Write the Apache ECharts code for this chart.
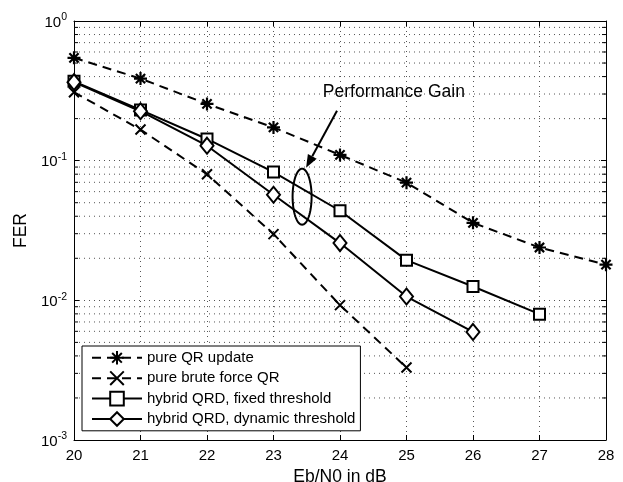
<!DOCTYPE html>
<html>
<head>
<meta charset="utf-8">
<script src="https://cdn.jsdelivr.net/npm/echarts@6/dist/echarts.min.js"></script>
<style>
html,body{margin:0;padding:0;background:#fff;}
#c{width:623px;height:482px;}
</style>
</head>
<body>
<div id="c"></div>
<script>
// ---- data ----
const ebn0 = [20, 21, 22, 23, 24, 25, 26, 27, 28];
const pureQRUpdate = [0.545, 0.387, 0.255, 0.173, 0.110, 0.0696, 0.0359, 0.0239, 0.0180];
const pureBruteForce = [0.309, 0.167, 0.080, 0.0298, 0.00924, 0.0033];
const hybridFixed = [0.370, 0.231, 0.143, 0.0828, 0.0438, 0.0194, 0.01256, 0.00796];
const hybridDynamic = [0.365, 0.226, 0.128, 0.057, 0.0257, 0.01065, 0.00594];
const seriesNames = ['pure QR update', 'pure brute force QR', 'hybrid QRD, fixed threshold', 'hybrid QRD, dynamic threshold'];
const annotationText = 'Performance Gain';

const FONT = "'Liberation Sans', Arial, Helvetica, sans-serif";
const pairs = (vals) => vals.map((v, i) => [ebn0[i], v]);

const asterisk = 'path://M0,-1L0,1M-1,0L1,0M-0.71,-0.71L0.71,0.71M-0.71,0.71L0.71,-0.71';
const cross = 'path://M-1,-1L1,1M-1,1L1,-1';

// minor gridline values (2..9 x decade)
const minorVals = [];
[-3, -2, -1].forEach(d => { for (let k = 2; k <= 9; k++) minorVals.push([20, k * Math.pow(10, d)]); });

const chart = echarts.init(document.getElementById('c'), null, {renderer: 'canvas'});

const gridDot = {color: '#555', width: 1, type: [1, 4]};

const option = {
  animation: false,
  backgroundColor: '#fff',
  grid: {left: 74, right: 17, top: 21, bottom: 42, show: false, containLabel: false, outerBoundsMode: 'none'},
  xAxis: [{
    type: 'value', min: 20, max: 28, interval: 1,
    name: 'Eb/N0 in dB', nameLocation: 'middle', nameGap: 21,
    nameTextStyle: {fontFamily: FONT, fontSize: 17.5, color: '#000'},
    axisLine: {lineStyle: {color: '#000', width: 1}},
    axisTick: {inside: true, length: 5, lineStyle: {color: '#000'}},
    axisLabel: {fontFamily: FONT, fontSize: 15, color: '#000', margin: 8},
    splitLine: {show: true, lineStyle: gridDot}
  }, {
    type: 'value', min: 20, max: 28, interval: 1, position: 'top',
    axisLine: {show: true, lineStyle: {color: '#000', width: 1}},
    axisTick: {show: true, inside: true, length: 5, lineStyle: {color: '#000'}},
    axisLabel: {show: false}, splitLine: {show: false}
  }],
  yAxis: [{
    type: 'log', logBase: 10, min: 0.001, max: 1,
    name: 'FER', nameLocation: 'middle', nameGap: 42, nameRotate: 90,
    nameTextStyle: {fontFamily: FONT, fontSize: 17.5, color: '#000'},
    axisLine: {show: true, lineStyle: {color: '#000', width: 1}},
    axisTick: {show: true, inside: true, length: 5, lineStyle: {color: '#000'}},
    axisLabel: {
      margin: 7,
      formatter: (v) => '{b|10}{s|' + Math.round(Math.log10(v)) + '}',
      rich: {
        b: {fontFamily: FONT, fontSize: 15, color: '#000', verticalAlign: 'bottom', lineHeight: 18},
        s: {fontFamily: FONT, fontSize: 10.5, color: '#000', verticalAlign: 'top', lineHeight: 18, padding: [0, 0, 8, 0]}
      }
    },
    splitLine: {show: true, lineStyle: gridDot}
  }, {
    type: 'log', logBase: 10, min: 0.001, max: 1, position: 'right',
    axisLine: {show: true, lineStyle: {color: '#000', width: 1}},
    axisTick: {show: true, inside: true, length: 5, lineStyle: {color: '#000'}},
    axisLabel: {show: false}, splitLine: {show: false}
  }],
  legend: {
    data: seriesNames,
    orient: 'vertical', left: 82, top: 346,
    backgroundColor: '#fff', borderColor: '#000', borderWidth: 1,
    padding: [4, 5, 4, 9],
    itemWidth: 50, itemHeight: 17, itemGap: 4.8,
    textStyle: {fontFamily: FONT, fontSize: 15, color: '#000'},
    selectedMode: false
  },
  series: [
    {
      type: 'custom', name: 'minorgrid', silent: true, z: 1,
      coordinateSystem: 'cartesian2d', xAxisIndex: 0, yAxisIndex: 0,
      data: minorVals,
      renderItem: function (params, api) {
        const p0 = api.coord([20, api.value(1)]);
        const p1 = api.coord([28, api.value(1)]);
        return {
          type: 'group', children: [
            {type: 'line', shape: {x1: p0[0], y1: p0[1], x2: p1[0], y2: p1[1]}, style: {stroke: '#555', lineWidth: 1, lineDash: [1, 4]}},
            {type: 'line', shape: {x1: p0[0], y1: p0[1], x2: p0[0] + 4, y2: p0[1]}, style: {stroke: '#000', lineWidth: 1}},
            {type: 'line', shape: {x1: p1[0] - 4, y1: p1[1], x2: p1[0], y2: p1[1]}, style: {stroke: '#000', lineWidth: 1}}
          ]
        };
      }
    },
    {
      name: seriesNames[0], type: 'line', data: pairs(pureQRUpdate), z: 3,
      symbol: asterisk, symbolSize: 13,
      lineStyle: {color: '#000', width: 2, type: [9, 6]},
      itemStyle: {color: 'rgba(0,0,0,0)', borderColor: '#000', borderWidth: 2.2}
    },
    {
      name: seriesNames[1], type: 'line', data: pairs(pureBruteForce), z: 3,
      symbol: cross, symbolSize: 10,
      lineStyle: {color: '#000', width: 2, type: [9, 6]},
      itemStyle: {color: 'rgba(0,0,0,0)', borderColor: '#000', borderWidth: 2}
    },
    {
      name: seriesNames[2], type: 'line', data: pairs(hybridFixed), z: 4,
      symbol: 'rect', symbolSize: 11,
      lineStyle: {color: '#000', width: 2},
      itemStyle: {color: '#fff', borderColor: '#000', borderWidth: 2}
    },
    {
      name: seriesNames[3], type: 'line', data: pairs(hybridDynamic), z: 4,
      symbol: 'diamond', symbolSize: [13, 16],
      lineStyle: {color: '#000', width: 2},
      itemStyle: {color: '#fff', borderColor: '#000', borderWidth: 2}
    }
  ]
};
chart.setOption(option);

// ---- annotation (positioned in data coordinates) ----
const annot = {
  textAt: [24.81, 0.307],
  arrowFrom: [23.955, 0.228],
  arrowTo: [23.49, 0.089],
  ellipseAt: [23.43, 0.0552]
};
const px = (p) => chart.convertToPixel({xAxisIndex: 0, yAxisIndex: 0}, p);
const tp = px(annot.textAt), a0 = px(annot.arrowFrom), a1 = px(annot.arrowTo), ec = px(annot.ellipseAt);
const ang = Math.atan2(a1[1] - a0[1], a1[0] - a0[0]);
const hl = 13, hw = 5;
const bx = a1[0] - hl * Math.cos(ang), by = a1[1] - hl * Math.sin(ang);
const head = [
  [a1[0], a1[1]],
  [bx + hw * Math.sin(ang), by - hw * Math.cos(ang)],
  [bx - hw * Math.sin(ang), by + hw * Math.cos(ang)]
];
const ell = [];
for (let i = 0; i <= 72; i++) {
  const t = i / 72 * Math.PI * 2;
  ell.push([ec[0] + 9.5 * Math.cos(t), ec[1] + 28 * Math.sin(t)]);
}
chart.setOption({
  graphic: [
    {type: 'text', x: tp[0], y: tp[1], z: 100, style: {text: annotationText, fontFamily: FONT, fontSize: 17.5, fill: '#000', align: 'center', verticalAlign: 'middle'}},
    {type: 'line', z: 100, shape: {x1: a0[0], y1: a0[1], x2: bx, y2: by}, style: {stroke: '#000', lineWidth: 2}},
    {type: 'polygon', z: 100, shape: {points: head}, style: {fill: '#000'}},
    {type: 'polyline', z: 100, shape: {points: ell}, style: {stroke: '#000', lineWidth: 2, fill: null}}
  ]
});
</script>
</body>
</html>
